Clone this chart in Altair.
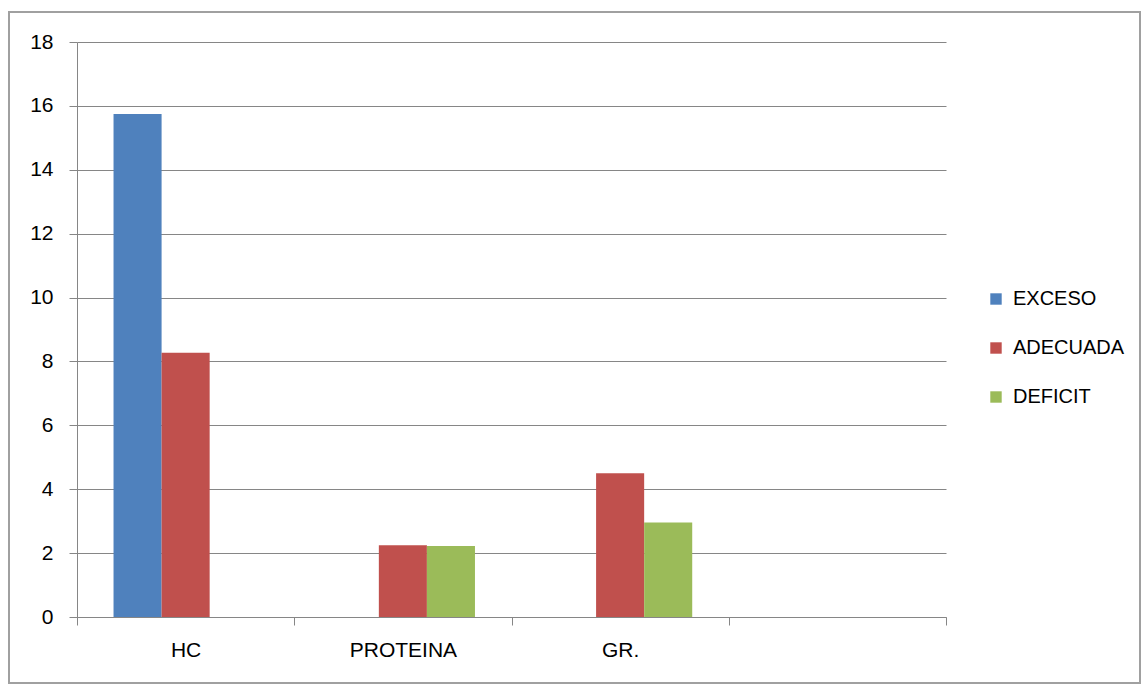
import altair as alt
import pandas as pd

categories = ["HC", "PROTEINA", "GR.", " "]
series = ["EXCESO", "ADECUADA", "DEFICIT"]
exceso = [15.75, None, None]
adecuada = [8.27, 2.25, 4.5]
deficit = [None, 2.22, 2.96]
colors = ["#4F81BD", "#C0504D", "#9BBB59"]
y_ticks = [0, 2, 4, 6, 8, 10, 12, 14, 16, 18]

rows = []
for s, vals in zip(series, [exceso, adecuada, deficit]):
    for c, v in zip(categories[:3], vals):
        if v is not None:
            rows.append({"cat": c, "serie": s, "valor": v})
df = pd.DataFrame(rows)

FONT = "Liberation Sans"
GRAY = "#868686"

bars = alt.Chart(df).mark_bar().encode(
    x=alt.X("cat:N", sort=categories,
            scale=alt.Scale(domain=categories, paddingInner=0, paddingOuter=0),
            axis=alt.Axis(title=None, labelAngle=0, tickBand="extent", tickSize=8,
                          tickColor=GRAY, domainColor=GRAY, labelFont=FONT,
                          labelFontSize=21, labelColor="#000000", labelPadding=14,
                          grid=False)),
    xOffset=alt.XOffset("serie:N", sort=series,
                        scale=alt.Scale(domain=series, paddingOuter=0.76, paddingInner=0)),
    y=alt.Y("valor:Q",
            scale=alt.Scale(domain=[0, 18], nice=False),
            axis=alt.Axis(title=None, values=y_ticks, tickSize=8, tickColor=GRAY,
                          domainColor=GRAY, gridColor=GRAY, gridWidth=1,
                          labelFont=FONT, labelFontSize=21, labelColor="#000000",
                          labelPadding=16)),
    color=alt.Color("serie:N", sort=series,
                    scale=alt.Scale(domain=series, range=colors),
                    legend=alt.Legend(title=None, orient="none", legendX=909, legendY=247,
                                      symbolType="square", symbolSize=130,
                                      symbolStrokeWidth=0, rowPadding=29,
                                      labelFont=FONT, labelFontSize=20,
                                      labelColor="#000000", labelOffset=7)),
)

frame = alt.Chart(pd.DataFrame({"k": [0]})).mark_rect(
    fill=None, stroke="#A0A0A0", strokeWidth=2
).encode(
    x=alt.value(-68), x2=alt.value(1063), y=alt.value(-30), y2=alt.value(641)
)

chart = alt.layer(frame, bars).properties(
    width=869, height=575,
    padding={"left": 77, "top": 42, "right": 202, "bottom": 68},
    autosize=alt.AutoSizeParams(type="none"),
    background="white",
).configure_view(stroke=None)

chart.save("out.html", embed_options={"renderer": "svg", "actions": False})
